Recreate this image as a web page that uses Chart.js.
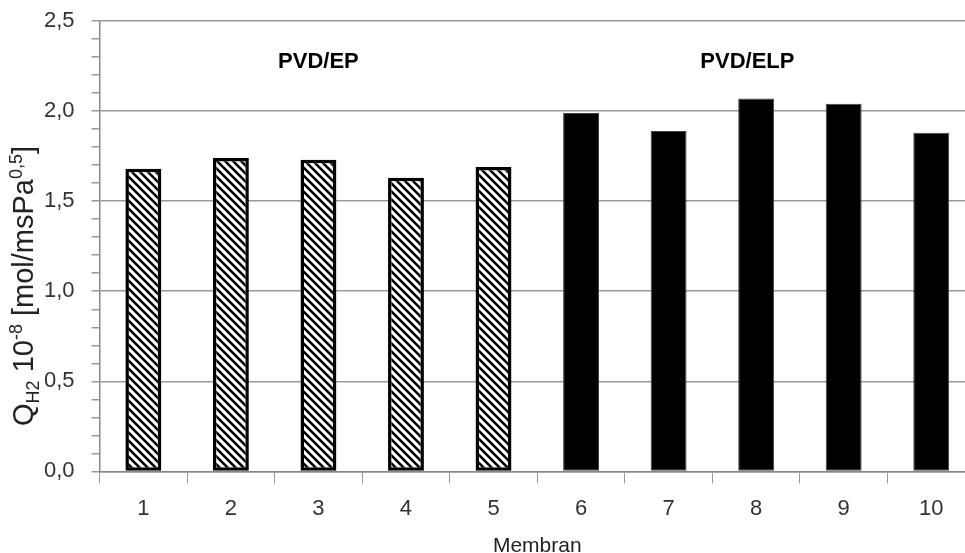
<!DOCTYPE html>
<html>
<head>
<meta charset="utf-8">
<script src="https://cdn.jsdelivr.net/npm/chart.js@4"></script>
<style>
  html, body { margin: 0; padding: 0; background: #fff; overflow: hidden; }
  #wrap { width: 975px; height: 553px; }
</style>
</head>
<body>
<div id="wrap"><canvas id="barChart" width="975" height="553"></canvas></div>
<script>
const membranes = ['1', '2', '3', '4', '5', '6', '7', '8', '9', '10'];
const fluxValues = [1.68, 1.74, 1.73, 1.63, 1.69, 1.99, 1.89, 2.07, 2.04, 1.88];
const groupLabels = ['PVD/EP', 'PVD/ELP'];
const groupCenters = [2, 6.9]; // category index where group label sits
const yTicks = [0, 0.5, 1, 1.5, 2, 2.5];

// hatch pattern for the PVD/EP bars
function makeHatch() {
    const c = document.createElement('canvas');
    c.width = 8; c.height = 8;
    const g = c.getContext('2d');
    g.fillStyle = '#fff';
    g.fillRect(0, 0, 8, 8);
    g.strokeStyle = '#000';
    g.lineWidth = 2.6;
    g.beginPath();
    g.moveTo(-2, -2); g.lineTo(10, 10);
    g.moveTo(-2, 6); g.lineTo(2, 10);
    g.moveTo(6, -2); g.lineTo(10, 2);
    g.stroke();
    return g.createPattern(c, 'repeat');
}

const ctx = document.getElementById('barChart').getContext('2d');
const hatch = makeHatch();

const fills = fluxValues.map((v, i) => i < 5 ? hatch : '#000');
const borders = fluxValues.map((v, i) => i < 5 ? 3.5 : 1);
const borderCols = fluxValues.map((v, i) => i < 5 ? '#000' : '#444');

// group labels above the bars
const groupLabelPlugin = {
    id: 'groupLabels',
    afterDatasetsDraw(chart) {
        const { ctx, scales } = chart;
        ctx.save();
        ctx.font = 'bold 22px "Liberation Sans"';
        ctx.fillStyle = '#000';
        ctx.textAlign = 'center';
        ctx.textBaseline = 'middle';
        groupLabels.forEach((lbl, i) => {
            ctx.fillText(lbl, scales.x.getPixelForValue(groupCenters[i]), scales.y.getPixelForValue(2.27));
        });
        ctx.restore();
    }
};

// y axis title with sub/superscripts
const yTitlePlugin = {
    id: 'yTitle',
    afterDraw(chart) {
        const { ctx } = chart;
        const parts = [
            { t: 'Q', s: 29, dy: 0 },
            { t: 'H2', s: 18, dy: 6 },
            { t: ' 10', s: 29, dy: 0 },
            { t: '-8', s: 18, dy: -11 },
            { t: ' [mol/msPa', s: 29, dy: 0 },
            { t: '0,5', s: 18, dy: -11 },
            { t: ']', s: 29, dy: 0 }
        ];
        ctx.save();
        let total = 0;
        parts.forEach(p => {
            ctx.font = p.s + 'px "Liberation Sans"';
            p.w = ctx.measureText(p.t).width;
            total += p.w;
        });
        ctx.translate(0, 286);
        ctx.rotate(-Math.PI / 2);
        ctx.fillStyle = '#222';
        ctx.textBaseline = 'alphabetic';
        let x = -total / 2;
        parts.forEach(p => {
            ctx.font = p.s + 'px "Liberation Sans"';
            ctx.fillText(p.t, x, 33 + p.dy);
            x += p.w;
        });
        ctx.restore();
    }
};

const isMajor = v => Math.round(v * 10) % 5 === 0;

new Chart(ctx, {
    type: 'bar',
    data: {
        labels: membranes,
        datasets: [{
            data: fluxValues,
            backgroundColor: fills,
            borderColor: borderCols,
            borderWidth: borders,
            borderSkipped: false,
            barPercentage: 0.41,
            categoryPercentage: 1
        }]
    },
    options: {
        responsive: false,
        animation: false,
        layout: { padding: { top: 21, left: 27, right: 0, bottom: -6 } },
        plugins: {
            legend: { display: false },
            tooltip: { enabled: false }
        },
        scales: {
            y: {
                min: 0,
                max: 2.5,
                afterBuildTicks(axis) {
                    const t = [];
                    for (let i = 0; i <= 25; i++) t.push({ value: i / 10 });
                    axis.ticks = t;
                },
                afterFit(axis) {
                    axis.paddingTop = 0;
                    axis.paddingBottom = 0;
                },
                ticks: {
                    autoSkip: false,
                    color: '#333',
                    font: { family: 'Liberation Sans', size: 22 },
                    padding: 17,
                    callback: v => isMajor(v) && yTicks.some(t => Math.abs(t - v) < 1e-6) ? v.toFixed(1).replace('.', ',') : ''
                },
                grid: {
                    color: c => (c.tick && isMajor(c.tick.value)) ? '#999' : 'rgba(0,0,0,0)',
                    tickColor: '#999',
                    tickLength: 8,
                    lineWidth: 1.5
                },
                border: { color: '#888', width: 1.5 }
            },
            x: {
                ticks: {
                    color: '#333',
                    font: { family: 'Liberation Sans', size: 22 },
                    padding: 12
                },
                grid: {
                    drawOnChartArea: false,
                    tickColor: '#999',
                    tickLength: 12,
                    offset: true
                },
                border: { color: '#888', width: 1.5 },
                title: {
                    display: true,
                    text: 'Membran',
                    color: '#222',
                    font: { family: 'Liberation Sans', size: 21 },
                    padding: { top: 0, bottom: 0 }
                }
            }
        }
    },
    plugins: [groupLabelPlugin, yTitlePlugin]
});
</script>
</body>
</html>
